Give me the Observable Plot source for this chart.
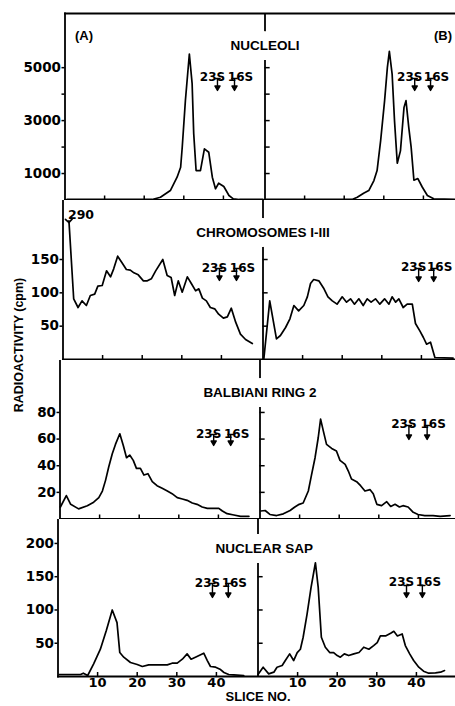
<!DOCTYPE html>
<html>
<head>
<meta charset="utf-8">
<script src="https://cdn.jsdelivr.net/npm/d3@7"></script>
<script src="https://cdn.jsdelivr.net/npm/@observablehq/plot@0.6"></script>
<style>
html, body { margin: 0; padding: 0; background: #fff; overflow: hidden; }
#chart { position: relative; width: 455px; height: 706px; overflow: hidden; background: #fff; }
#chart svg { position: absolute; left: 0; }
#ylab { position: absolute; left: 19px; top: 345px; transform: translate(-50%, -50%) rotate(-90deg);
  white-space: nowrap; font: bold 12.5px "Liberation Sans", Arial, sans-serif; color: #000; }
</style>
</head>
<body>
<div id="chart"><div id="ylab">RADIOACTIVITY (cpm)</div></div>
<script>
// ---------------- data ----------------
const xTicks = [10, 20, 30, 40];
const nucleoliTicks = [1000, 2000, 3000, 4000, 5000];
const nucleoliTickLabels = [1000, 3000, 5000];
const chromTicks = [50, 100, 150];
const brTicks = [20, 40, 60, 80];
const sapTicks = [50, 100, 150, 200];
const sapRightTicks = [50, 100, 150];
const markerNames = ["23S", "16S"];

// NUCLEOLI (A)
const nucA_slice = [0.5, 22, 24.1, 26.6, 28.3, 29.2, 29.6, 30.4, 31.4, 32.1, 32.5, 33.1, 34.2, 35.2, 36.3, 37.2, 38, 38.8, 40.1, 41.4, 42.5, 44, 50];
const nucA_cpm   = [20, 20, 106, 358, 860, 1238, 1992, 3755, 5517, 4396, 2509, 1113, 1113, 1932, 1804, 860, 423, 634, 509, 170, 45, 20, 20];
// NUCLEOLI (B)
const nucB_slice = [0.3, 22, 23.3, 24.9, 26.2, 27.5, 28.3, 29.2, 30.2, 30.9, 31.4, 32.1, 32.7, 33.4, 34.2, 35.1, 35.6, 36.3, 36.9, 37.6, 38.6, 39.7, 41, 42.6, 48.5];
const nucB_cpm   = [20, 20, 106, 257, 358, 736, 1113, 2245, 3755, 5012, 5615, 4758, 3000, 1389, 1857, 3500, 3755, 2747, 2000, 747, 811, 491, 170, 45, 20];
// CHROMOSOMES I-III (A)
const chrA_slice = [1.5, 2.7, 3.8, 4.8, 5.9, 6.9, 8, 8.8, 9.9, 11, 12, 12.8, 13.8, 14.9, 16, 17, 17.9, 19, 20.3, 21.3, 22.3, 23.4, 25.2, 26.3, 27.3, 28.2, 29.1, 30.1, 31.4, 32.4, 33.5, 34.3, 35.2, 36.2, 37.2, 38.3, 39.3, 40.5, 41.5, 42.5, 43.6, 44.8, 46.1, 47.8];
const chrA_cpm   = [290, 91, 78, 88, 81, 96, 98, 110, 111, 133, 124, 136, 155, 145, 135, 134, 130, 127, 118, 118, 121, 133, 150, 126, 123, 96, 118, 101, 124, 114, 103, 106, 92, 88, 78, 76, 68, 62, 64, 77, 56, 38, 30, 24];
// CHROMOSOMES I-III (B)
const chrB_slice = [0.2, 1.7, 3.4, 4.4, 5.7, 6.8, 7.8, 9, 10.3, 11.2, 12, 12.8, 14.1, 15.4, 16.4, 17.5, 18.7, 20, 21.1, 22.1, 23.1, 24.2, 25.3, 26.3, 27.3, 28.4, 29.5, 30.7, 31.8, 32.6, 33.5, 34.3, 35.4, 36.4, 37.7, 38.5, 39.6, 40.5, 41.3, 42.3, 43.4, 48];
const chrB_cpm   = [0, 88, 31, 36, 48, 61, 81, 73, 81, 94, 114, 120, 118, 106, 94, 88, 83, 94, 86, 91, 83, 91, 81, 91, 86, 91, 83, 91, 83, 94, 86, 91, 78, 83, 83, 54, 43, 33, 23, 26, 3, 2];
// BALBIANI RING 2 (A)
const brA_slice = [0.1, 1.6, 2.7, 4.7, 6.9, 8.5, 9.8, 10.7, 11.5, 12.3, 13.2, 14, 15.1, 16, 16.8, 17.6, 18.5, 19.3, 20.3, 21.2, 22.2, 23.3, 24.5, 25.8, 27.1, 28.3, 29.6, 30.9, 32.1, 33.4, 34.6, 35.9, 37.2, 38.8, 40.1, 41, 42.2, 43.9, 45.6, 47.7];
const brA_cpm   = [9, 17.6, 11, 7.6, 10, 12.6, 16, 21, 29, 39, 49, 56, 64, 55, 46, 48, 44, 38, 38, 33, 34, 28, 25, 23, 21, 19, 16, 15, 14, 12, 11, 9, 8, 8, 8, 6, 4, 3, 2, 2];
// BALBIANI RING 2 (B)
const brB_slice = [0.2, 1.3, 2.5, 4.2, 5.9, 7.6, 8.8, 9.9, 10.9, 12.2, 13, 13.9, 14.7, 15.3, 16, 16.8, 18.1, 19.3, 20.2, 21.5, 22.3, 23.1, 24.4, 25.4, 26.5, 27.8, 28.6, 29.5, 30.7, 32, 33, 34.1, 35.2, 36.1, 37.4, 38.7, 39.9, 41.6, 43.7, 45.5, 48];
const brB_cpm   = [6, 6.4, 3.4, 2.6, 3.9, 6.4, 9, 11, 12, 21, 33, 46, 61, 75, 66, 56, 53, 51, 44, 41, 36, 30, 28, 25, 21, 22, 19, 11, 10, 13, 9.4, 11, 9, 10, 9, 5, 3.4, 2.6, 2.6, 2, 2.6];
// NUCLEAR SAP (A)
const sapA_slice = [0.3, 5.7, 6.4, 7.5, 9, 10.7, 12.2, 13.7, 14.9, 15.6, 16.6, 18.3, 20, 21.3, 22.9, 25, 27.6, 28.8, 30.1, 31.4, 32.6, 33.6, 34.7, 36.8, 37.7, 38.5, 39.8, 40.9, 41.9, 43.1, 44.4, 46.9];
const sapA_cpm   = [3, 3, 5, 1.5, 19, 41, 69, 100, 81, 36, 29, 21, 18, 15, 17.5, 17.5, 17.5, 20, 20, 26, 34, 26, 29, 35, 24, 15, 14, 11, 6, 3, 2.5, 1.5];
// NUCLEAR SAP (B)
const sapB_slice = [0, 1.3, 2.7, 4, 4.8, 6.1, 6.9, 8, 9, 9.9, 10.7, 11.4, 12.4, 13.4, 14.5, 15.2, 16, 17, 18.1, 19.1, 20, 20.8, 21.8, 22.9, 24.2, 25.5, 26.7, 28, 29.2, 30.1, 30.9, 32.2, 33.5, 34.3, 35.2, 36.4, 37.2, 38.3, 39.3, 40.6, 41.8, 43.1, 44.8, 46.1, 47.1];
const sapB_cpm   = [3, 14, 4, 6.5, 14, 16.5, 24, 34, 24, 36, 41, 59, 94, 134, 171, 134, 59, 44, 36, 36, 31.5, 29, 34, 31.5, 34, 36, 44, 41, 46.5, 51, 61, 61, 65, 68, 61, 64, 46.5, 34, 24, 14, 8, 5, 5.5, 6.5, 9];

// 23S / 16S marker positions (slice no.)
const nucA_markers = [38.5, 42.8];
const nucB_markers = [37.8, 41.8];
const chrA_markers = [39.5, 43.8];
const chrB_markers = [39.3, 43.1];
const brA_markers  = [38.8, 43.1];
const brB_markers  = [37.6, 42.2];
const sapA_markers = [39.0, 43.0];
const sapB_markers = [37.5, 41.5];

// ---------------- drawing ----------------
const DIV = 50.5;          // panel (B) origin on the shared slice axis
const CHROM_CAP = 208;     // off-scale value is drawn clipped with an arrow
const fam = "'Liberation Sans', Arial, sans-serif";
const num = "'DejaVu Sans', sans-serif";

function pts(xs, ys, shift) { return xs.map((x, i) => ({x: x + shift, y: ys[i]})); }

const barArrow = {
  draw(ctx, l) {
    ctx.moveTo(-2.6, 0); ctx.lineTo(2.6, 0);
    ctx.moveTo(0, 0); ctx.lineTo(0, -l + 1);
    ctx.moveTo(-2.6, -l + 4.5); ctx.lineTo(0, -l); ctx.lineTo(2.6, -l + 4.5); ctx.closePath();
  }
};

const rows = [
  {title: "NUCLEOLI", top: 0, height: 200, mt: 13, mb: 0.5, ml: 64.5, ymax: 7047,
   A: [nucA_slice, nucA_cpm], B: [nucB_slice, nucB_cpm], ticks: nucleoliTicks, labels: nucleoliTickLabels,
   rticks: nucleoliTicks, mA: nucA_markers, mB: nucB_markers, titleX: DIV, titleDy: 27,
   lbl: [[59, 65, 12], [59, 65, 12]], topBorder: true},
  {title: "CHROMOSOMES I-III", top: 200, height: 160, mt: 0, mb: 1, ml: 62.5, ymax: 238.5,
   A: [chrA_slice, chrA_cpm], B: [chrB_slice, chrB_cpm], ticks: chromTicks, labels: chromTicks,
   rticks: chromTicks, mA: chrA_markers, mB: chrB_markers, titleX: DIV, titleDy: 27,
   lbl: [[63, 68, 12], [62, 68, 13]], cap: true},
  {title: "BALBIANI RING 2", top: 360, height: 159, mt: 0, mb: 0.5, ml: 59.5, ymax: 119,
   A: [brA_slice, brA_cpm], B: [brB_slice, brB_cpm], ticks: brTicks, labels: brTicks,
   rticks: brTicks, mA: brA_markers, mB: brB_markers, titleX: DIV, titleDy: 27,
   lbl: [[69, 74, 11], [59, 65, 14]]},
  {title: "NUCLEAR SAP", top: 519, height: 187, mt: 0, mb: 30, ml: 57.5, ymax: 236,
   A: [sapA_slice, sapA_cpm], B: [sapB_slice, sapB_cpm], ticks: sapTicks, labels: sapTicks,
   rticks: sapRightTicks, mA: sapA_markers, mB: sapB_markers, titleX: DIV + 1.6, titleDy: 24,
   lbl: [[59, 64, 14], [58, 66, 12]], bottom: true}
];

const chart = document.getElementById("chart");
const xt = xTicks.concat(xTicks.map(t => t + DIV));

rows.forEach((r, ri) => {
  const marks = [];
  marks.push(Plot.ruleX([DIV], {strokeWidth: 1.8}));
  marks.push(Plot.text([r.title], {x: () => r.titleX, frameAnchor: "top", dy: r.titleDy,
    stroke: "white", strokeWidth: 20, fill: "black", fontFamily: fam, fontWeight: "bold", fontSize: 13.5}));
  marks.push(Plot.frame({anchor: "left", strokeWidth: 1.8}));
  marks.push(Plot.frame({anchor: "bottom", strokeWidth: 1.8}));
  if (r.topBorder) marks.push(Plot.frame({anchor: "top", strokeWidth: 1.8}));
  marks.push(Plot.axisY({ticks: r.ticks, tickSize: 3, tickPadding: 1, label: null,
    tickFormat: d => r.labels.includes(d) ? String(d) : "",
    fontFamily: num, fontWeight: "bold", fontSize: 13.5, strokeWidth: 1.5}));
  marks.push(Plot.ruleY(r.rticks, {y: d => d, x1: DIV, x2: DIV + 1.3, strokeWidth: 1.5}));
  marks.push(Plot.axisX({ticks: xt, tickSize: -4, tickFormat: () => "", label: null, strokeWidth: 1.5}));
  if (r.bottom) {
    marks.push(Plot.axisX({ticks: xt, tickSize: 0, tickPadding: 1, label: null,
      tickFormat: d => d > DIV ? String(Math.round(d - DIV)) : String(d),
      fontFamily: num, fontWeight: "bold", fontSize: 13}));
    marks.push(Plot.text(["SLICE NO."], {x: () => DIV, frameAnchor: "bottom", dy: 24,
      fontFamily: fam, fontWeight: "bold", fontSize: 13}));
  }
  if (ri === 0) {
    marks.push(Plot.text(["(A)"], {frameAnchor: "top-left", dx: 10, dy: 17, textAnchor: "start",
      fontFamily: fam, fontWeight: "bold", fontSize: 13}));
    marks.push(Plot.text(["(B)"], {frameAnchor: "top-left", dx: 369, dy: 17, textAnchor: "start",
      fontFamily: fam, fontWeight: "bold", fontSize: 13}));
  }
  // 23S / 16S markers
  [[r.mA, 0, r.lbl[0]], [r.mB, DIV, r.lbl[1]]].forEach(([m, shift, [tDy, aDy, len]]) => {
    marks.push(Plot.text([m[0] + shift], {x: d => d, text: () => markerNames[0], frameAnchor: "top",
      dy: tDy, dx: -5, fontFamily: num, fontWeight: "bold", fontSize: 12}));
    marks.push(Plot.text([m[1] + shift], {x: d => d, text: () => markerNames[1], frameAnchor: "top",
      dy: tDy, dx: 6, fontFamily: num, fontWeight: "bold", fontSize: 12}));
    marks.push(Plot.vector(m.map(v => v + shift), {x: d => d, frameAnchor: "top", dy: aDy,
      length: len, rotate: 180, anchor: "start", shape: barArrow, fill: "black", stroke: "black", strokeWidth: 1.4}));
  });
  // data lines
  if (r.cap) {
    marks.push(Plot.line(pts(r.A[0], r.A[1], 0), {x: "x", y: d => Math.min(d.y, CHROM_CAP),
      strokeWidth: 1.7, markerStart: "arrow"}));
    marks.push(Plot.text([{x: r.A[0][0], y: r.A[1][0]}], {x: "x", text: d => String(d.y),
      frameAnchor: "top", dy: 10, dx: -1, textAnchor: "start", fontFamily: num, fontWeight: "bold", fontSize: 12.5}));
  } else {
    marks.push(Plot.line(pts(r.A[0], r.A[1], 0), {x: "x", y: "y", strokeWidth: 1.7}));
  }
  marks.push(Plot.line(pts(r.B[0], r.B[1], DIV), {x: "x", y: "y", strokeWidth: 1.7}));

  const svg = Plot.plot({
    width: 455, height: r.height,
    marginTop: r.mt, marginBottom: r.mb, marginLeft: r.ml, marginRight: 0,
    x: {domain: [0, 2 * DIV], range: [r.ml, r.ml + 400], label: null},
    y: {domain: [0, r.ymax], label: null},
    style: {fontFamily: fam, background: "transparent", color: "black"},
    marks
  });
  svg.style.top = r.top + "px";
  chart.insertBefore(svg, document.getElementById("ylab"));
});
</script>
</body>
</html>
